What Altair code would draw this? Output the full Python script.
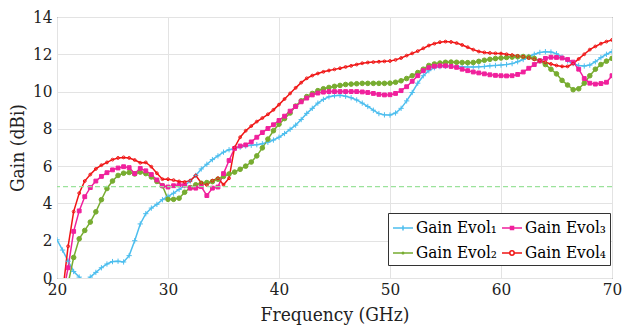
import altair as alt
import pandas as pd

# Frequency sweep (GHz), one sample every 0.5 GHz
freq = [20 + 0.5 * i for i in range(101)]

evol1 = [2.05, 1.5, 0.9, 0.35, 0.05, -0.2, 0.05, 0.3, 0.55, 0.75,
         0.88, 0.9, 0.86, 1.2, 2.0, 2.9, 3.45, 3.75, 3.95, 4.2,
         4.38, 4.55, 4.75, 4.95, 5.2, 5.5, 5.85, 6.1, 6.35, 6.55,
         6.75, 6.88, 6.95, 7.02, 7.08, 7.12, 7.15, 7.2, 7.28, 7.4,
         7.55, 7.75, 7.97, 8.2, 8.5, 8.83, 9.1, 9.38, 9.58, 9.72,
         9.78, 9.8, 9.75, 9.67, 9.55, 9.38, 9.2, 9.0, 8.82, 8.75,
         8.74, 8.85, 9.1, 9.5, 9.95, 10.45, 10.85, 11.12, 11.28, 11.34,
         11.36, 11.35, 11.34, 11.33, 11.32, 11.32, 11.33, 11.35, 11.38, 11.4,
         11.42, 11.45, 11.5, 11.6, 11.72, 11.88, 12.0, 12.1, 12.14, 12.12,
         12.03, 11.85, 11.65, 11.5, 11.4, 11.37, 11.42, 11.6, 11.82, 12.0,
         12.14]

evol2 = [-2.0, -1.2, -0.3, 1.1, 2.1, 2.55, 3.0, 3.55, 4.2, 4.8,
         5.2, 5.5, 5.62, 5.66, 5.58, 5.68, 5.6, 5.42, 5.18, 4.95,
         4.22, 4.22, 4.28, 4.6, 4.85, 5.0, 5.08, 5.12, 5.17, 5.3,
         5.45, 5.58, 5.68, 5.83, 6.0, 6.22, 6.55, 6.98, 7.45, 7.9,
         8.25, 8.55, 8.85, 9.22, 9.5, 9.73, 9.9, 10.05, 10.15, 10.22,
         10.28, 10.33, 10.38, 10.4, 10.42, 10.44, 10.44, 10.44, 10.44, 10.44,
         10.45, 10.5, 10.58, 10.7, 10.85, 11.02, 11.2, 11.4, 11.48, 11.53,
         11.57, 11.58, 11.57, 11.56, 11.55, 11.56, 11.62, 11.68, 11.73, 11.77,
         11.8, 11.83, 11.85, 11.87, 11.88, 11.85, 11.78, 11.65, 11.45, 11.2,
         10.95, 10.6, 10.35, 10.1, 10.15, 10.45, 10.85, 11.2, 11.45, 11.63,
         11.78]

evol3 = [-3.0, -1.0, 0.55, 2.5, 3.6, 4.36, 4.85, 5.2, 5.45, 5.65,
         5.8, 5.9, 5.97, 5.92, 5.6, 5.88, 5.75, 5.55, 5.26, 4.95,
         4.88, 4.95, 5.0, 4.98, 4.82, 4.82, 4.9, 4.42, 4.82, 4.88,
         5.6, 6.3, 6.95, 7.08, 7.14, 7.3, 7.55, 7.8, 8.02, 8.22,
         8.45, 8.68, 8.95, 9.2, 9.45, 9.65, 9.82, 9.92, 9.97, 10.0,
         10.0, 10.0, 10.0, 10.0, 10.0, 9.98, 9.95, 9.9, 9.85, 9.82,
         9.83, 9.9, 10.05, 10.26, 10.55, 10.85, 11.12, 11.28, 11.36, 11.38,
         11.38, 11.35, 11.3, 11.2, 11.12, 11.05, 11.0, 10.95, 10.9, 10.87,
         10.85, 10.84, 10.85, 10.92, 11.05, 11.25, 11.45, 11.65, 11.78, 11.84,
         11.83, 11.8, 11.72, 11.58, 11.2, 10.7, 10.45, 10.4, 10.43, 10.5,
         10.85]

evol4 = [-3.0, -0.8, 1.7, 3.56, 4.55, 5.2, 5.55, 5.85, 6.05, 6.2,
         6.35, 6.44, 6.47, 6.44, 6.33, 6.18, 6.2, 5.97, 5.62, 5.3,
         5.3, 5.25, 5.18, 5.15, 5.22, 5.5, 5.1, 4.99, 5.22, 5.35,
         5.0, 5.35, 7.0, 7.55, 7.9, 8.15, 8.39, 8.58, 8.78, 9.02,
         9.3, 9.6, 9.9, 10.2, 10.48, 10.71, 10.86, 10.97, 11.06, 11.13,
         11.19, 11.25, 11.32, 11.38, 11.45, 11.52, 11.56, 11.58, 11.6, 11.62,
         11.64, 11.7, 11.8, 11.93, 12.05, 12.17, 12.32, 12.47, 12.57, 12.65,
         12.68, 12.66, 12.6, 12.5, 12.38, 12.25, 12.15, 12.1, 12.07, 12.05,
         12.04, 12.0, 11.96, 11.91, 11.87, 11.8, 11.73, 11.66, 11.57, 11.48,
         11.4, 11.35, 11.35, 11.5, 11.75, 12.0, 12.25, 12.42, 12.57, 12.68,
         12.77]

threshold = 4.9
x_ticks = [20, 30, 40, 50, 60, 70]
y_ticks = [0, 2, 4, 6, 8, 10, 12, 14]

N1, N2, N3, N4 = "Gain Evol\u2081", "Gain Evol\u2082", "Gain Evol\u2083", "Gain Evol\u2084"

rows = []
for name, vals in [(N1, evol1), (N2, evol2), (N3, evol3), (N4, evol4)]:
    for f, g in zip(freq, vals):
        rows.append({"freq": f, "gain": g, "series": name})
df = pd.DataFrame(rows)

BLUE, GREEN, MAG, RED = "#4DBEEE", "#77AC30", "#F0209C", "#F01414"
order = [N1, N2, N3, N4]
colors = [BLUE, GREEN, MAG, RED]

plus_path = "M-1,0H1M0,-1V1"
data_shapes = [plus_path, "circle", "square", "circle"]
data_sizes = [28, 8, 15, 24]
data_fills = ["transparent", GREEN, MAG, "transparent"]

leg_shapes = [
    "M-1,0H1M0,-0.24V0.24",
    "M-1,0H1M-0.08,0A0.08,0.08 0 1,0 0.08,0A0.08,0.08 0 1,0 -0.08,0",
    "M-1,0H1M-0.15,-0.15H0.15V0.15H-0.15Z",
    "M-1,0H-0.22M0.22,0H1M-0.22,0A0.22,0.22 0 1,0 0.22,0A0.22,0.22 0 1,0 -0.22,0",
]

FONT = "DejaVu Serif Condensed, DejaVu Serif, serif"

x_axis = alt.Axis(values=x_ticks, title="Frequency (GHz)", format="d",
                  labelFont=FONT, titleFont=FONT, labelFontSize=17, titleFontSize=19,
                  labelFlush=False, labelPadding=3, titlePadding=8, labelOverlap=False,
                  ticks=False, domain=False, grid=True, gridColor="#E3E3E3",
                  labelColor="#222222", titleColor="#222222", titleFontWeight="normal")
y_axis = alt.Axis(values=y_ticks, title="Gain (dBi)", format="d",
                  labelFont=FONT, titleFont=FONT, labelFontSize=17, titleFontSize=19,
                  labelPadding=5, titlePadding=5, labelOverlap=False,
                  ticks=False, domain=False, grid=True, gridColor="#E3E3E3",
                  labelColor="#222222", titleColor="#222222", titleFontWeight="normal")

x_scale = alt.Scale(domain=[20, 70], nice=False)
y_scale = alt.Scale(domain=[0, 14], nice=False)
x_enc = alt.X("freq:Q", scale=x_scale, axis=x_axis)
y_enc = alt.Y("gain:Q", scale=y_scale, axis=y_axis)

base = alt.Chart(df)

lines = base.mark_line(clip=True, strokeWidth=1.5).encode(
    x=x_enc, y=y_enc,
    color=alt.Color("series:N", scale=alt.Scale(domain=order, range=colors), legend=None),
    detail="series:N",
)

points = base.mark_point(clip=True, filled=False, strokeWidth=1, opacity=1).encode(
    x=x_enc, y=y_enc,
    color=alt.Color("series:N", scale=alt.Scale(domain=order, range=colors), legend=None),
    shape=alt.Shape("series:N", scale=alt.Scale(domain=order, range=data_shapes), legend=None),
    size=alt.Size("series:N", scale=alt.Scale(domain=order, range=data_sizes), legend=None),
    fill=alt.Fill("series:N", scale=alt.Scale(domain=order, range=data_fills), legend=None),
)

leg = alt.Legend(
    title=None, orient="none", legendX=331, legendY=196, columns=2,
    strokeColor="#333333", fillColor="white", padding=4,
    labelFont=FONT, labelFontSize=17, labelColor="black", labelLimit=300,
    symbolSize=400, symbolStrokeWidth=1.5, labelOffset=2,
    columnPadding=2, rowPadding=6, symbolOpacity=1,
)

legend_layer = base.transform_filter("datum.freq < 0").mark_point(filled=False, strokeWidth=1.5).encode(
    x=x_enc, y=y_enc,
    color=alt.Color("series:N", scale=alt.Scale(domain=order, range=colors), legend=leg),
    shape=alt.Shape("series:N", scale=alt.Scale(domain=order, range=leg_shapes), legend=leg),
)

thr = alt.Chart(pd.DataFrame({"gain": [threshold]})).mark_rule(
    color="#9BE29B", strokeWidth=1.3, strokeDash=[5, 3]
).encode(y=y_enc)

chart = alt.layer(lines, points, thr, legend_layer).resolve_scale(
    color="independent", shape="independent"
).properties(
    width=555, height=261,
    autosize=alt.AutoSizeParams(type="none"),
    padding={"left": 57, "top": 17, "right": 11, "bottom": 54},
).configure_view(
    stroke="#3a3a3a", strokeWidth=1
)

chart.save("out.html", embed_options={"renderer": "svg", "actions": False})
